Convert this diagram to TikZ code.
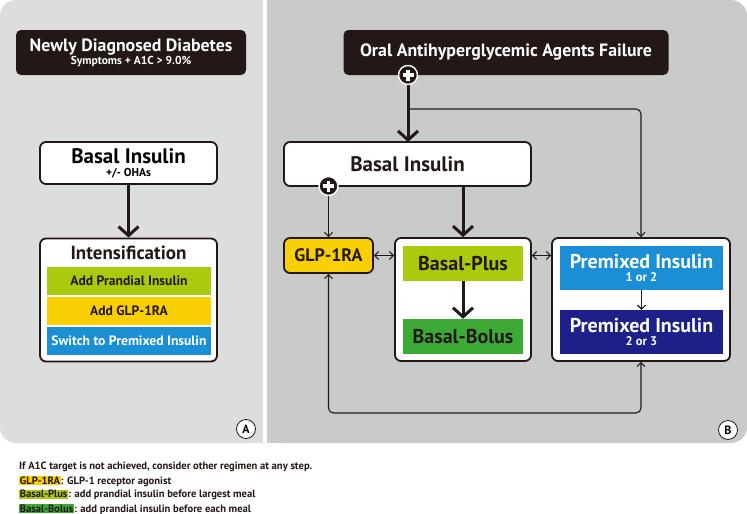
\documentclass[tikz,border=0pt]{standalone}
\usepackage{fontspec}
\setmainfont{PT Sans}
\usetikzlibrary{arrows.meta}
\definecolor{panelA}{HTML}{DCDDDD}
\definecolor{panelB}{HTML}{C9CACA}
\definecolor{darkbox}{HTML}{231815}
\definecolor{lime}{HTML}{AACA0E}
\definecolor{gold}{HTML}{F8CF00}
\definecolor{sky}{HTML}{1A8FD6}
\definecolor{leaf}{HTML}{3EAA36}
\definecolor{navy}{HTML}{1D2088}
\newcommand{\fsz}[1]{\fontsize{#1}{#1}\selectfont\bfseries}
\begin{document}
\begin{tikzpicture}[x=1pt,y=-1pt,
  darknode/.style={rectangle, rounded corners=5, fill=darkbox, text=white, align=center, inner sep=0pt},
  whitebox/.style={rectangle, rounded corners=6, fill=white, draw=darkbox, line width=1.8pt, inner sep=0pt, align=center},
  bar/.style={rectangle, inner sep=0pt, align=center},
  bigarrow/.style={draw=darkbox, line width=3pt, -{Straight Barb[length=9pt,width=20pt]}},
  thinarrow/.style={draw=darkbox, line width=1.1pt, -{Straight Barb[length=4pt,width=8pt]}},
  twoway/.style={draw=darkbox, line width=1.1pt, {Straight Barb[length=4pt,width=8pt]}-{Straight Barb[length=4pt,width=8pt]}},
  plusdot/.style={circle, fill=darkbox, draw=white, line width=1.4pt, minimum size=19pt, inner sep=0pt,
    path picture={\draw[white, line width=3.4pt] ([xshift=-5.5pt]path picture bounding box.center) -- ([xshift=5.5pt]path picture bounding box.center);
                  \draw[white, line width=3.4pt] ([yshift=-5.5pt]path picture bounding box.center) -- ([yshift=5.5pt]path picture bounding box.center);}},
  letter/.style={circle, fill=white, draw=darkbox, line width=0.8pt, minimum size=19pt, inner sep=0pt, font=\fsz{12}},
  note/.style={anchor=west, inner sep=0pt, font=\fsz{10.6}, text=darkbox}
]
\useasboundingbox (0,0) rectangle (747,514);
\fill[white] (0,0) rectangle (747,514);
% panels
\fill[panelA, rounded corners=16] (0,0) rectangle (263,443);
\fill[panelA] (40,0) rectangle (263,443);
\fill[panelB, rounded corners=16] (267,0) rectangle (747,443);
\fill[panelB] (267,0) rectangle (700,443);

% ---------- Panel A ----------
\node[darknode, minimum width=230pt, minimum height=45pt] (nd) at (131,52.5)
  {{\fsz{17.8}Newly Diagnosed Diabetes}\\[1pt]{\fsz{11.5}Symptoms + A1C > 9.0\%}};
\node[whitebox, minimum width=177pt, minimum height=42pt] (basA) at (128.5,163)
  {{\fsz{21}Basal Insulin}\\[1pt]{\fsz{11.5}+/- OHAs}};
\node[whitebox, minimum width=177pt, minimum height=123pt] (intA) at (128.5,300) {};
\node[inner sep=0pt, font=\fsz{19}, text=darkbox] (intT) at (128.5,253) {Intensification};
\node[bar, fill=lime, minimum width=164pt, minimum height=28pt, font=\fsz{13.6}, text=darkbox] (b1) at (129,281) {Add Prandial Insulin};
\node[bar, fill=gold, minimum width=164pt, minimum height=28pt, font=\fsz{13.6}, text=darkbox] (b2) at (129,311) {Add GLP-1RA};
\node[bar, fill=sky, minimum width=164pt, minimum height=28pt, font=\fsz{13.6}, text=white] (b3) at (129,341) {Switch to Premixed Insulin};
\draw[bigarrow] (basA.south) -- (intA.north);
\node[letter] (la) at (246,429) {A};

% ---------- Panel B ----------
\node[darknode, minimum width=325pt, minimum height=45pt, font=\fsz{17.8}] (oral) at (506,52.5) {Oral Antihyperglycemic Agents Failure};
\node[whitebox, minimum width=247pt, minimum height=44pt, font=\fsz{21}, text=darkbox] (basB) at (407.5,164) {Basal Insulin};
\node[whitebox, fill=gold, minimum width=89pt, minimum height=35pt, font=\fsz{18}, text=darkbox] (glp) at (328.5,255.5) {GLP-1RA};
\node[whitebox, minimum width=136pt, minimum height=123pt] (c1) at (463,299.5) {};
\node[bar, fill=lime, minimum width=120pt, minimum height=35pt, font=\fsz{20}, text=darkbox] (bp) at (463,263.5) {Basal-Plus};
\node[bar, fill=leaf, minimum width=120pt, minimum height=35pt, font=\fsz{20}, text=darkbox] (bb) at (463,336.5) {Basal-Bolus};
\node[whitebox, minimum width=178pt, minimum height=123pt] (c2) at (641,299.5) {};
\node[bar, fill=sky, minimum width=163pt, minimum height=44pt, text=white] (pm1) at (641.5,268)
  {{\fsz{20}Premixed Insulin}\\[1.5pt]{\fsz{12.5}1 or 2}};
\node[bar, fill=navy, minimum width=163pt, minimum height=44pt, text=white] (pm2) at (641.5,332)
  {{\fsz{20}Premixed Insulin}\\[1.5pt]{\fsz{12.5}2 or 3}};
\coordinate (branch) at (408,109);
\coordinate (loopL) at (328.5,413);

\draw[thinarrow, rounded corners=5] (branch) -| (c2.north);
\draw[bigarrow] (408,75) -- (408,142);
\node[plusdot] (plus1) at (408,75) {};
\draw[bigarrow] (basB.south -| c1.north) -- (c1.north);
\draw[thinarrow] (328.5,186) -- (glp.north);
\node[plusdot] (plus2) at (328.5,186) {};
\draw[bigarrow] (bp.south) -- (bb.north);
\draw[thinarrow] (pm1.south) -- (pm2.north);
\draw[twoway] (glp.east) -- (glp.east -| c1.west);
\draw[twoway] (glp.east -| c1.east) -- (glp.east -| c2.west);
\draw[twoway, rounded corners=5] (glp.south) -- (loopL) -| (c2.south);
\node[letter] (lb) at (728,430) {B};

% ---------- Notes ----------
\setlength{\fboxsep}{0.7pt}
\node[note] (n1) at (19,467) {If A1C target is not achieved, consider other regimen at any step.};
\node[note] (n2) at (19,481) {\colorbox{gold}{GLP-1RA}: GLP-1 receptor agonist};
\node[note] (n3) at (19,495) {\colorbox{lime}{Basal-Plus}: add prandial insulin before largest meal};
\node[note] (n4) at (19,509) {\colorbox{leaf}{Basal-Bolus}: add prandial insulin before each meal};
\end{tikzpicture}
\end{document}
